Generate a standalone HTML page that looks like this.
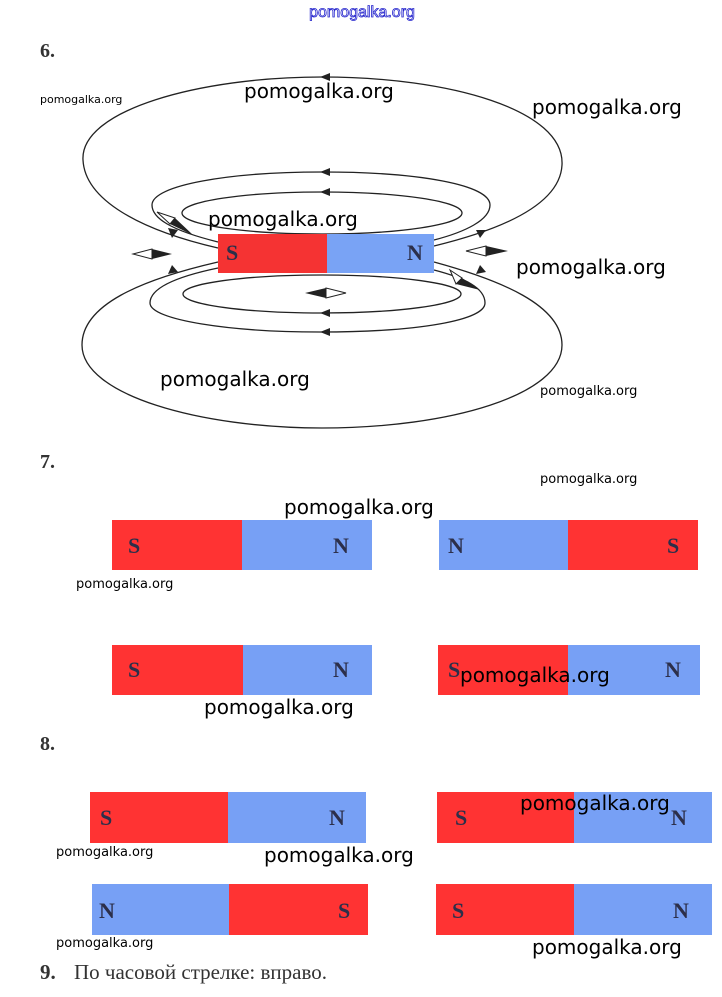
<!DOCTYPE html>
<html><head><meta charset="utf-8"><style>
body{margin:0;background:#fff;width:722px;height:997px;overflow:hidden}
svg{display:block}
.w{font-family:"DejaVu Sans","Liberation Sans",sans-serif;fill:#000}
.p{font-family:"Liberation Serif",serif;font-weight:bold;fill:#2c2f4a;font-size:22px}
.n{font-family:"Liberation Serif",serif;font-weight:bold;fill:#333;font-size:20px}
</style></head><body>
<svg width="722" height="997" viewBox="0 0 722 997" xmlns="http://www.w3.org/2000/svg">
<text x="362" y="17" text-anchor="middle" font-family="Liberation Sans,sans-serif" font-size="16" fill="#fff" stroke="#2222cc" stroke-width="0.8">pomogalka.org</text>
<text x="40" y="57" class="n">6.</text>
<g fill="none" stroke="#222" stroke-width="1.3">
<path d="M218,248 C140,230 85,200 83,160 C80,110 200,77 322,77 C450,77 565,110 562,165 C560,205 500,230 434,246"/>
<path d="M218,262 C140,280 82,305 82,345 C82,395 200,428 322,428 C450,428 562,395 562,345 C562,305 500,280 434,262"/>
<path d="M218,242 C170,230 152,218 152,205 C152,185 230,172 322,172 C420,172 490,185 490,205 C490,220 465,232 434,240"/>
<path d="M218,268 C170,278 150,290 150,303 C150,320 230,332 320,332 C420,332 485,320 485,303 C485,288 465,278 434,270"/>
<ellipse cx="322" cy="213" rx="140" ry="21"/>
<ellipse cx="322" cy="294" rx="139" ry="19"/>
</g>
<g fill="#222">
<polygon points="320,77 330,73 330,81"/>
<polygon points="320,172 330,168 330,176"/>
<polygon points="320,192 330,188 330,196"/>
<polygon points="320,313 330,309 330,317"/>
<polygon points="320,332 330,328 330,336"/>
<polygon points="172,238 168,228 178,230"/>
<polygon points="172,265 168,274 178,272"/>
<polygon points="480,238 476,230 486,230"/>
<polygon points="480,265 476,274 486,272"/>
</g>
<polygon points="133,254 152,249 152,259" fill="#fff" stroke="#222"/>
<polygon points="172,254 152,249 152,259" fill="#222"/>
<polygon points="466,251 486,246 486,256" fill="#fff" stroke="#222"/>
<polygon points="508,251 486,246 486,256" fill="#222"/>
<polygon points="346,293 326,288 326,298" fill="#fff" stroke="#222"/>
<polygon points="305,293 326,288 326,298" fill="#222"/>
<polygon points="157,212 175,218 170,224" fill="#fff" stroke="#222"/>
<polygon points="193,235 175,218 170,224" fill="#222"/>
<polygon points="450,270 462,278 456,284" fill="#fff" stroke="#222"/>
<polygon points="480,290 462,278 456,284" fill="#222"/>
<rect x="218" y="234" width="109" height="39" fill="#f53333"/>
<rect x="327" y="234" width="107" height="39" fill="#79a3f5"/>
<text x="226" y="260" class="p" font-size="18">S</text>
<text x="407" y="260" class="p" font-size="18">N</text>

<text x="40" y="468" class="n">7.</text>
<g>
<rect x="112" y="520" width="130" height="50" fill="#ff3333"/><rect x="242" y="520" width="130" height="50" fill="#77a0f5"/>
<text x="128" y="553" class="p">S</text><text x="333" y="553" class="p">N</text>
<rect x="439" y="520" width="129" height="50" fill="#77a0f5"/><rect x="568" y="520" width="130" height="50" fill="#ff3333"/>
<text x="448" y="553" class="p">N</text><text x="667" y="553" class="p">S</text>
<rect x="112" y="645" width="131" height="50" fill="#ff3333"/><rect x="243" y="645" width="129" height="50" fill="#77a0f5"/>
<text x="128" y="677" class="p">S</text><text x="333" y="677" class="p">N</text>
<rect x="438" y="645" width="130" height="50" fill="#ff3333"/><rect x="568" y="645" width="132" height="50" fill="#77a0f5"/>
<text x="448" y="677" class="p">S</text><text x="665" y="677" class="p">N</text>
</g>
<text x="40" y="750" class="n">8.</text>
<g>
<rect x="90" y="792" width="138" height="51" fill="#ff3333"/><rect x="228" y="792" width="138" height="51" fill="#77a0f5"/>
<text x="100" y="825" class="p">S</text><text x="329" y="825" class="p">N</text>
<rect x="437" y="792" width="137" height="51" fill="#ff3333"/><rect x="574" y="792" width="138" height="51" fill="#77a0f5"/>
<text x="455" y="825" class="p">S</text><text x="671" y="825" class="p">N</text>
<rect x="92" y="884" width="137" height="51" fill="#77a0f5"/><rect x="229" y="884" width="139" height="51" fill="#ff3333"/>
<text x="99" y="918" class="p">N</text><text x="338" y="918" class="p">S</text>
<rect x="436" y="884" width="138" height="51" fill="#ff3333"/><rect x="574" y="884" width="138" height="51" fill="#77a0f5"/>
<text x="452" y="918" class="p">S</text><text x="673" y="918" class="p">N</text>
</g>
<text x="40" y="979" font-family="Liberation Serif,serif" font-size="21" fill="#333"><tspan font-weight="bold">9.</tspan><tspan x="74">По часовой стрелке: вправо.</tspan></text>

<g class="w">
<text x="40" y="103" font-size="11">pomogalka.org</text>
<text x="244" y="98" font-size="20">pomogalka.org</text>
<text x="532" y="114" font-size="20">pomogalka.org</text>
<text x="208" y="226" font-size="20">pomogalka.org</text>
<text x="516" y="274" font-size="20">pomogalka.org</text>
<text x="160" y="386" font-size="20">pomogalka.org</text>
<text x="540" y="395" font-size="13">pomogalka.org</text>
<text x="540" y="483" font-size="13">pomogalka.org</text>
<text x="284" y="514" font-size="20">pomogalka.org</text>
<text x="76" y="588" font-size="13">pomogalka.org</text>
<text x="460" y="682" font-size="20">pomogalka.org</text>
<text x="204" y="714" font-size="20">pomogalka.org</text>
<text x="520" y="810" font-size="20">pomogalka.org</text>
<text x="56" y="856" font-size="13">pomogalka.org</text>
<text x="264" y="862" font-size="20">pomogalka.org</text>
<text x="56" y="947" font-size="13">pomogalka.org</text>
<text x="532" y="954" font-size="20">pomogalka.org</text>
</g>
</svg>
</body></html>
